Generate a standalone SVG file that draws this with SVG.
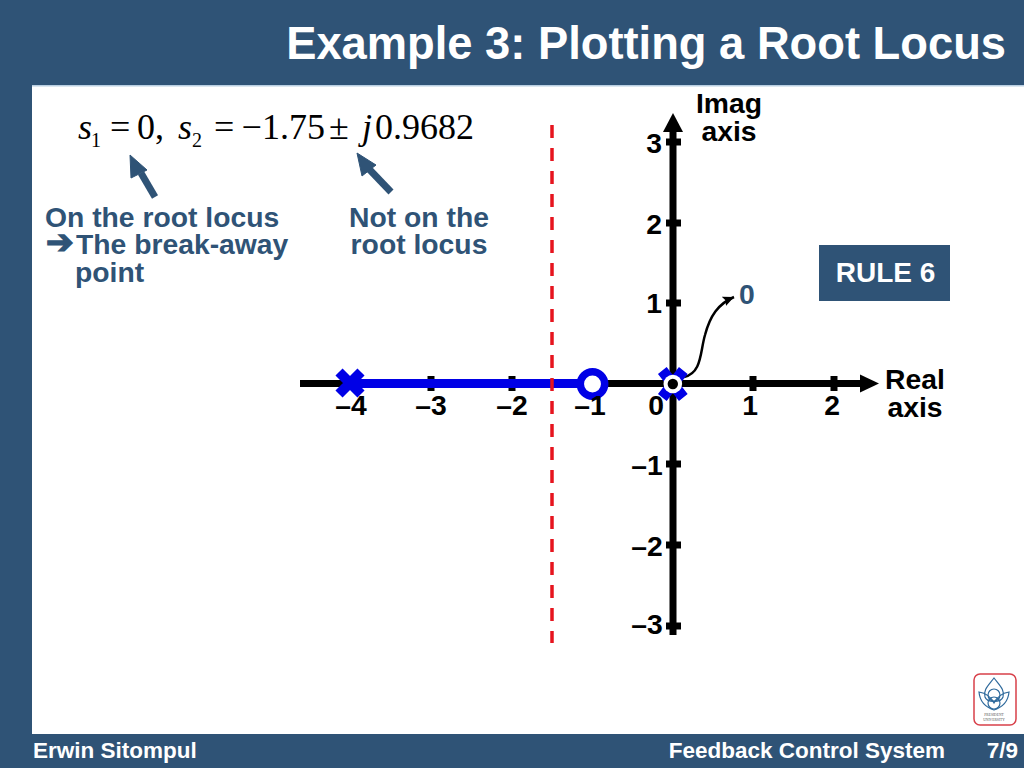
<svg xmlns="http://www.w3.org/2000/svg" width="1024" height="768" viewBox="0 0 1024 768">
<style>
.s{font-family:"Liberation Sans",Arial,sans-serif;font-weight:700}
.w{fill:#fff}
.k{fill:#000;font-size:28.3px;text-anchor:middle}
.b{fill:#2f5376;font-size:28.3px}
.m{font-family:"Liberation Serif","Times New Roman",serif;fill:#000;font-size:36px}
.sub{font-size:20px}
.ax{stroke:#000;stroke-width:7;fill:none}
.point{stroke:#2f5376;stroke-width:7;fill:none}
.ft{font-size:22.5px}
.x{stroke:#0000e6;fill:none}
.lg{font-family:"Liberation Serif",serif;font-size:3.6px;fill:#555;text-anchor:middle}
</style>
<defs>
<marker id="ah" markerUnits="userSpaceOnUse" markerWidth="12" markerHeight="12" refX="11" refY="5.5" orient="auto"><path d="M0 0.5L11 5.5L0 10.5L2 5.5Z" fill="#000"/></marker>
</defs>
<rect width="1024" height="768" fill="#2f5376"/>
<rect x="32" y="86" width="992" height="648" fill="#fff"/>
<rect x="32" y="85" width="992" height="1.5" fill="#b9cfe2"/>
<text class="s w" x="1006" y="59" font-size="45.3" text-anchor="end">Example 3: Plotting a Root Locus</text>
<text class="s w ft" x="33" y="758">Erwin Sitompul</text>
<text class="s w ft" x="945" y="758" text-anchor="end">Feedback Control System</text>
<text class="s w ft" x="1018" y="758" text-anchor="end">7/9</text>

<g id="equation">
<text class="m" x="78" y="139" font-style="italic">s</text>
<text class="m sub" x="91" y="147">1</text>
<text class="m" x="110" y="139">=</text>
<text class="m" x="137" y="139">0,</text>
<text class="m" x="178" y="139" font-style="italic">s</text>
<text class="m sub" x="192" y="147">2</text>
<text class="m" x="214" y="139">=</text>
<text class="m" x="241.5" y="139">−</text>
<text class="m" x="262" y="139">1.75</text>
<text class="m" x="329" y="139">±</text>
<text class="m" x="362" y="139" font-style="italic">j</text>
<text class="m" x="375" y="139">0.9682</text>
</g>

<g id="note-on">
<path d="M155 197L141 173" class="point"/><path d="M130 155L147 170L131 178Z" fill="#2f5376" stroke="#2f5376" stroke-width="1"/>
<text class="s b" x="45" y="227">On the root locus</text>
<text x="46" y="253" font-size="33" fill="#2f5376" stroke="#2f5376" stroke-width="1.5" font-family="'DejaVu Sans',sans-serif">➔</text>
<text class="s b" x="76" y="254">The break-away</text>
<text class="s b" x="75" y="282">point</text>
</g>
<g id="note-off">
<path d="M391 192L369 169" class="point"/><path d="M357 153L376 165L362 176Z" fill="#2f5376" stroke="#2f5376" stroke-width="1"/>
<text class="s b" x="419" y="227" text-anchor="middle">Not on the</text>
<text class="s b" x="419" y="254" text-anchor="middle">root locus</text>
</g>

<g id="connectors">
<path class="ax" d="M300 383.5H862"/><path d="M860 374.5L879 383.5L860 392.5Z" fill="#000"/>
<path class="ax" d="M673 635V130"/><path d="M663 132L673 113L683 132Z" fill="#000"/>
<path class="ax" d="M431 376v15M512 376v15M592 376v15M753 376v15M834 376v15M666 142h15M666 223h15M666 303h15M666 464h15M666 545h15M666 626h15"/>
<path d="M350 383.5H592" stroke="#0000e6" stroke-width="9" fill="none"/>
<path d="M552 125V643" stroke="#e6141e" stroke-width="3.5" stroke-dasharray="13 10" fill="none"/>
<path d="M684 377C702 373 700 352 705 335C710 316 718 304 734 297" stroke="#000" stroke-width="2.5" fill="none" marker-end="url(#ah)"/>
</g>

<g id="pole-4"><path class="x" d="M339 372L361 394M361 372L339 394" stroke-width="10"/></g>
<g id="zero-1"><circle cx="592.5" cy="384" r="12.2" fill="#fff" stroke="#0000e6" stroke-width="7.5"/></g>
<g id="pole-0"><path class="x" d="M662.3 370.5L683.3 397.5M683.3 370.5L662.3 397.5" stroke-width="11"/><circle cx="672.8" cy="384" r="9.3" fill="#fff"/><circle cx="672.8" cy="384" r="5.2" fill="#000"/></g>

<g id="labels">
<text class="s k" x="351" y="415">–4</text><text class="s k" x="431" y="415">–3</text><text class="s k" x="512" y="415">–2</text><text class="s k" x="590" y="415">–1</text><text class="s k" x="656" y="415">0</text><text class="s k" x="750" y="415">1</text><text class="s k" x="832" y="415">2</text>
<text class="s k" x="654" y="153">3</text><text class="s k" x="654" y="234">2</text><text class="s k" x="654" y="313">1</text><text class="s k" x="647" y="475">–1</text><text class="s k" x="647" y="556">–2</text><text class="s k" x="647" y="634">–3</text>
<text class="s k" x="729" y="113">Imag</text><text class="s k" x="729" y="141">axis</text>
<text class="s k" x="915" y="389">Real</text><text class="s k" x="915" y="417">axis</text>
<text class="s b" x="739" y="304">0</text>
</g>

<g id="rule-6"><rect x="819" y="245" width="131" height="56" fill="#2f5376"/><text class="s w" x="885.5" y="282" font-size="28" text-anchor="middle">RULE 6</text></g>

<g id="logo">
<rect x="974" y="674" width="42" height="51" rx="6" fill="#fff" stroke="#d8404a" stroke-width="1.5"/>
<g fill="none" stroke="#2f6a9c" stroke-width="1.2">
<path d="M994 678C988 686 983 690 985 697C987 703 1001 703 1003 697C1005 690 1000 686 994 678Z"/>
<path d="M979 692C980 704 988 708 994 710C1000 708 1008 704 1009 692C1003 693 997 697 994 703C991 697 985 693 979 692Z"/>
<circle cx="994" cy="695" r="6"/><circle cx="994" cy="703" r="6"/>
</g>
<text class="lg" x="994" y="716">PRESIDENT</text>
<text class="lg" x="994" y="721">UNIVERSITY</text>
</g>
</svg>
